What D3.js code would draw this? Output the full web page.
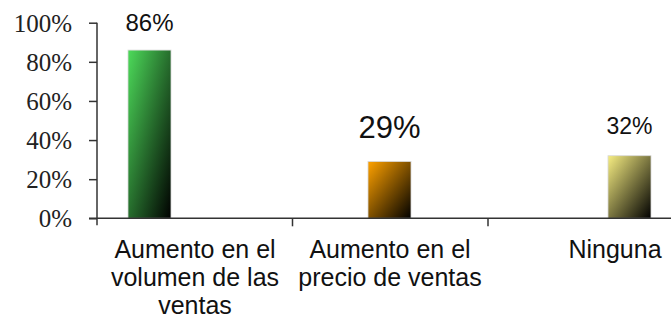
<!DOCTYPE html>
<html>
<head>
<meta charset="utf-8">
<script src="https://cdn.jsdelivr.net/npm/d3@7"></script>
<style>
  html, body { margin: 0; padding: 0; background: #fff; }
  svg { display: block; }
</style>
</head>
<body>
<svg id="chart" width="671" height="320"></svg>
<script>
// Data
const categories = [
  ["Aumento en el", "volumen de las", "ventas"],
  ["Aumento en el", "precio de ventas"],
  ["Ninguna"]
];
const categoryKeys = ["volumen", "precio", "ninguna"];
const values = [86, 29, 32];
const yTicks = [0, 20, 40, 60, 80, 100];

// Styling
const barTopColors = ["#4ddb5a", "#ffa200", "#f7ee82"];
const valueFontSizes = [24, 31, 23];
const valueGaps = [19, 24, 22];

const W = 671, H = 320;
const svg = d3.select("#chart");

const plot = { left: 97, top: 22.7, bottom: 218.3 };

const y = d3.scaleLinear().domain([0, 100]).range([plot.bottom, plot.top]);

// Category bands along the x axis (the last band runs past the right edge)
const xBand = d3.scaleBand().domain(categoryKeys).range([plot.left, plot.left + 3 * 195.5]);
// Bar centres
const xBar = d3.scalePoint().domain(categoryKeys).range([149.5, 629.5]);
// Category label centres
const xLabel = d3.scaleOrdinal().domain(categoryKeys).range([195, 390, 615]);
const barWidth = 43;

// Gradients: bright top-left fading to black bottom-right
const defs = svg.append("defs");
categoryKeys.forEach((k, i) => {
  const g = defs.append("linearGradient")
    .attr("id", "grad-" + k)
    .attr("x1", 0).attr("y1", 0).attr("x2", 1).attr("y2", 1);
  g.append("stop").attr("offset", "0%").attr("stop-color", barTopColors[i]);
  g.append("stop").attr("offset", "100%").attr("stop-color", "#000");
});

// Bars
svg.append("g").selectAll("rect")
  .data(values)
  .join("rect")
  .attr("x", (d, i) => xBar(categoryKeys[i]) - barWidth / 2)
  .attr("y", d => y(d))
  .attr("width", barWidth)
  .attr("height", d => y(0) - y(d))
  .attr("fill", (d, i) => `url(#grad-${categoryKeys[i]})`)
  .attr("stroke", "#d8d8d8")
  .attr("stroke-width", 0.8);

// Value labels
svg.append("g").selectAll("text")
  .data(values)
  .join("text")
  .attr("x", (d, i) => xBar(categoryKeys[i]))
  .attr("y", (d, i) => y(d) - valueGaps[i])
  .attr("text-anchor", "middle")
  .attr("font-family", "Liberation Sans, Arial, sans-serif")
  .attr("font-size", (d, i) => valueFontSizes[i])
  .attr("fill", "#111")
  .text(d => d + "%");

// Y axis
const yAxis = d3.axisLeft(y)
  .tickValues(yTicks)
  .tickSize(8)
  .tickPadding(17)
  .tickFormat(d => d + "%");
const gy = svg.append("g")
  .attr("transform", `translate(${plot.left},0)`)
  .call(yAxis);
gy.select(".domain").remove();
gy.append("line")
  .attr("x1", 0).attr("x2", 0)
  .attr("y1", y(100)).attr("y2", y(0) + 7)
  .attr("stroke", "#333").attr("stroke-width", 1.5);
gy.selectAll(".tick line").attr("stroke", "#333").attr("stroke-width", 1.5);
gy.selectAll(".tick text")
  .attr("font-family", "Liberation Serif, 'Times New Roman', serif")
  .attr("font-size", 25)
  .attr("fill", "#222")
  .attr("dy", "0.34em");

// X axis
const gx = svg.append("g");
gx.append("line")
  .attr("x1", plot.left - 8).attr("x2", W)
  .attr("y1", y(0)).attr("y2", y(0))
  .attr("stroke", "#333").attr("stroke-width", 1.5);
gx.selectAll("line.cat-tick")
  .data(categoryKeys.slice(1))
  .join("line")
  .attr("class", "cat-tick")
  .attr("x1", d => xBand(d)).attr("x2", d => xBand(d))
  .attr("y1", y(0)).attr("y2", y(0) + 8)
  .attr("stroke", "#333").attr("stroke-width", 1.5);

// Category labels
const lab = gx.selectAll("text.cat")
  .data(categories)
  .join("text")
  .attr("class", "cat")
  .attr("text-anchor", "middle")
  .attr("font-family", "Liberation Sans, Arial, sans-serif")
  .attr("font-size", 25)
  .attr("fill", "#111");
lab.selectAll("tspan")
  .data((d, i) => d.map(t => ({ t, k: categoryKeys[i] })))
  .join("tspan")
  .attr("x", d => xLabel(d.k))
  .attr("y", (d, j) => 258 + j * 28)
  .text(d => d.t);
</script>
</body>
</html>
